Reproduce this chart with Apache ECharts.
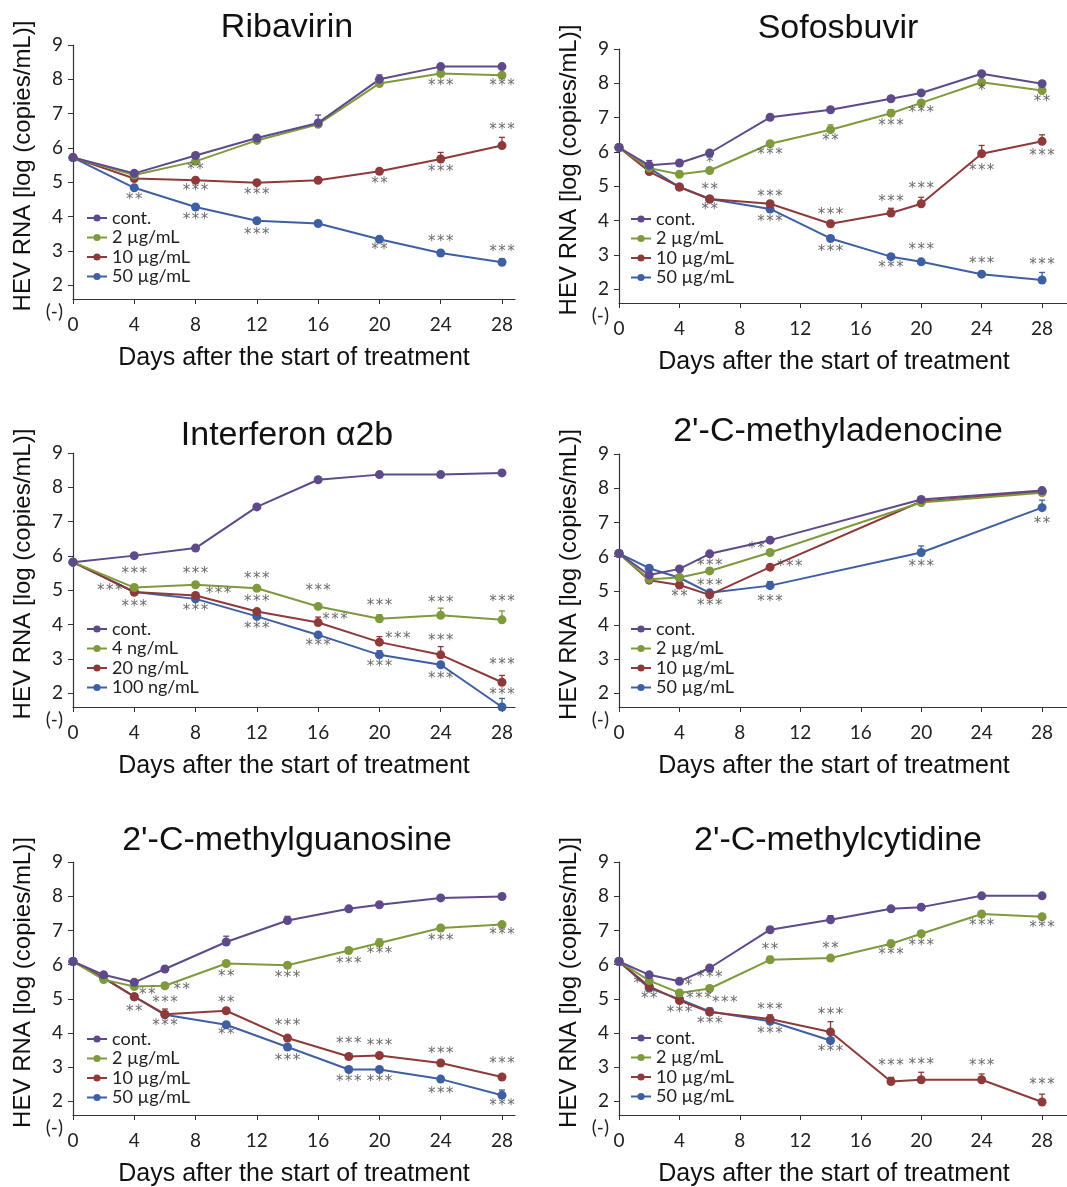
<!DOCTYPE html>
<html>
<head>
<meta charset="utf-8">
<title>HEV RNA</title>
<script src="https://cdn.jsdelivr.net/npm/echarts@6/dist/echarts.min.js"></script>
<style>
  html, body { margin: 0; padding: 0; background: #fff; }
  #main { width: 1067px; height: 1187px; }
</style>
</head>
<body>
<div id="main"></div>
<script>
// days sampled in each experiment
var daysWeekly = [0, 4, 8, 12, 16, 20, 24, 28]
    , daysDense = [0, 2, 4, 6, 10, 14, 18, 20, 24, 28]
    , daysAde = [0, 2, 4, 6, 10, 20, 28];

var xTicks = [0, 4, 8, 12, 16, 20, 24, 28]
    , yTicks = [2, 3, 4, 5, 6, 7, 8, 9]
    , yFloor = 1.6;   // "(-)" = below detection, sits on the x axis

var namesUg = ['cont.', '2 µg/mL', '10 µg/mL', '50 µg/mL']
    , namesIfn = ['cont.', '4 ng/mL', '20 ng/mL', '100 ng/mL'];

// Ribavirin
var ribCont = [5.72, 5.26, 5.78, 6.29, 6.73, 8.00, 8.37, 8.37];
var ribLow = [5.72, 5.21, 5.61, 6.22, 6.69, 7.88, 8.17, 8.12];
var ribMid = [5.72, 5.11, 5.06, 4.99, 5.06, 5.32, 5.68, 6.07];
var ribHigh = [5.72, 4.84, 4.28, 3.88, 3.80, 3.34, 2.94, 2.67];
var ribErr = [
    [0, 0, 0, 0.05, 0.23, 0.13, 0, 0],
    [0, 0, 0, 0, 0, 0, 0, 0],
    [0, 0, 0, 0, 0.06, 0.08, 0.19, 0.24],
    [0, 0, 0, 0, 0, 0, 0, 0.10]];
var ribStars = [
    [24, 7.80, '***'], [28, 7.80, '***'], [28, 6.52, '***'], [8, 5.35, '**'],
    [24, 5.31, '***'], [20, 4.94, '**'], [8, 4.74, '***'], [12, 4.63, '***'],
    [4, 4.48, '**'], [8, 3.90, '***'], [12, 3.46, '***'], [24, 3.26, '***'],
    [20, 3.02, '**'], [28, 2.97, '***']];

// Sofosbuvir
var sofCont = [6.13, 5.61, 5.68, 5.97, 7.01, 7.23, 7.55, 7.72, 8.28, 7.99];
var sofLow = [6.13, 5.53, 5.35, 5.46, 6.24, 6.65, 7.13, 7.43, 8.03, 7.79];
var sofMid = [6.13, 5.43, 4.98, 4.63, 4.49, 3.91, 4.22, 4.49, 5.95, 6.31];
var sofHigh = [6.13, 5.53, 4.98, 4.63, 4.34, 3.48, 2.95, 2.80, 2.44, 2.27];
var sofErr = [
    [0, 0.14, 0, 0, 0, 0, 0, 0, 0, 0],
    [0, 0, 0, 0, 0, 0.14, 0.10, 0, 0, 0],
    [0, 0, 0, 0, 0, 0, 0.14, 0.19, 0.24, 0.19],
    [0, 0, 0, 0, 0, 0, 0, 0, 0, 0.22]];
var sofStars = [
    [24, 7.77, '*'], [28, 7.45, '**'], [20, 7.13, '***'], [18, 6.76, '***'],
    [14, 6.33, '**'], [10, 5.92, '***'], [6, 5.69, '*'], [28, 5.89, '***'],
    [24, 5.43, '***'], [6, 4.90, '**'], [20, 4.92, '***'], [10, 4.68, '***'],
    [18, 4.54, '***'], [6, 4.31, '**'], [14, 4.17, '***'], [10, 3.97, '***'],
    [20, 3.15, '***'], [14, 3.09, '***'], [24, 2.73, '***'], [28, 2.71, '***'],
    [18, 2.63, '***']];

// Interferon alpha2b
var ifnCont = [5.82, 6.01, 6.23, 7.43, 8.22, 8.37, 8.37, 8.42];
var ifnLow = [5.82, 5.08, 5.16, 5.06, 4.53, 4.17, 4.27, 4.14];
var ifnMid = [5.82, 4.95, 4.85, 4.38, 4.06, 3.49, 3.12, 2.32];
var ifnHigh = [5.82, 4.95, 4.75, 4.24, 3.70, 3.12, 2.83, 1.6];
var ifnErr = [
    [0, 0, 0, 0, 0, 0, 0, 0],
    [0, 0, 0, 0, 0.06, 0.12, 0.21, 0.26],
    [0, 0, 0, 0, 0.16, 0.16, 0.24, 0.20],
    [0, 0, 0, 0, 0, 0.12, 0, 0.25]];
var ifnStars = [
    [4, 5.47, '***'], [8, 5.47, '***'], [12, 5.33, '***'], [2.4, 4.98, '***'],
    [16, 4.98, '***'], [9.5, 4.89, '***'], [12, 4.67, '***'], [20, 4.53, '***'],
    [24, 4.64, '***'], [28, 4.67, '***'], [4, 4.50, '***'], [8, 4.38, '***'],
    [17.1, 4.12, '***'], [12, 3.87, '***'], [21.2, 3.58, '***'], [24, 3.51, '***'],
    [16, 3.36, '***'], [28, 2.83, '***'], [20, 2.75, '***'], [24, 2.41, '***'],
    [28, 1.95, '***']];

// 2'-C-methyladenocine
var adeCont = [6.09, 5.46, 5.64, 6.08, 6.48, 7.67, 7.93];
var adeLow = [6.09, 5.34, 5.39, 5.58, 6.12, 7.58, 7.87];
var adeMid = [6.09, 5.31, 5.17, 4.88, 5.69, 7.61, 7.90];
var adeHigh = [6.09, 5.66, 5.38, 4.94, 5.15, 6.12, 7.43];
var adeErr = [
    [0, 0, 0, 0, 0, 0, 0],
    [0, 0, 0, 0, 0, 0, 0],
    [0, 0, 0, 0, 0, 0, 0],
    [0, 0, 0, 0, 0.12, 0.19, 0.22]];
var adeStars = [
    [28, 6.95, '**'], [9.1, 6.21, '**'], [6, 5.73, '***'], [11.3, 5.68, '***'],
    [20, 5.68, '***'], [6, 5.15, '***'], [4, 4.80, '**'], [10, 4.66, '***'],
    [6, 4.55, '***']];

// 2'-C-methylguanosine
var guaCont = [6.09, 5.70, 5.48, 5.87, 6.66, 7.29, 7.63, 7.75, 7.95, 7.99];
var guaLow = [6.09, 5.56, 5.36, 5.38, 6.03, 5.98, 6.41, 6.63, 7.07, 7.17];
var guaMid = [6.09, 5.61, 5.06, 4.55, 4.65, 3.85, 3.31, 3.34, 3.12, 2.71];
var guaHigh = [6.09, 5.61, 5.06, 4.53, 4.24, 3.59, 2.93, 2.93, 2.65, 2.18];
var guaErr = [
    [0, 0, 0, 0, 0.17, 0.12, 0, 0, 0, 0],
    [0, 0, 0, 0, 0, 0, 0, 0.12, 0, 0],
    [0, 0, 0, 0.15, 0, 0, 0, 0, 0, 0],
    [0, 0, 0, 0, 0, 0, 0, 0, 0, 0.15]];
var guaStars = [
    [28, 6.86, '***'], [24, 6.68, '***'], [20, 6.31, '***'], [18, 6.00, '***'],
    [10, 5.63, '**'], [14, 5.59, '***'], [7.1, 5.24, '**'], [4.85, 5.12, '**'],
    [6, 4.88, '***'], [10, 4.86, '**'], [4, 4.61, '**'], [6, 4.19, '***'],
    [14, 4.19, '***'], [10, 3.95, '**'], [18, 3.66, '***'], [20, 3.61, '***'],
    [24, 3.38, '***'], [14, 3.19, '***'], [28, 3.09, '***'], [18, 2.56, '***'],
    [20, 2.56, '***'], [24, 2.22, '***'], [28, 1.87, '***']];

// 2'-C-methylcytidine
var cytCont = [6.09, 5.70, 5.51, 5.90, 7.02, 7.31, 7.63, 7.68, 8.01, 8.01];
var cytLow = [6.09, 5.53, 5.17, 5.30, 6.14, 6.19, 6.61, 6.90, 7.48, 7.40];
var cytMid = [6.09, 5.36, 4.95, 4.61, 4.41, 4.03, 2.58, 2.63, 2.63, 1.98];
var cytHigh = [6.09, 5.31, 4.99, 4.63, 4.34, 3.78];
var cytErr = [
    [0, 0, 0, 0, 0, 0.12, 0, 0, 0, 0],
    [0, 0, 0, 0, 0.10, 0, 0.10, 0, 0, 0],
    [0, 0, 0, 0.12, 0.12, 0.30, 0.12, 0.22, 0.17, 0.23],
    [0, 0, 0, 0, 0, 0]];
var cytStars = [
    [24, 7.12, '***'], [28, 7.07, '***'], [10, 6.41, '**'], [14, 6.46, '**'],
    [20, 6.53, '***'], [18, 6.29, '***'], [6, 5.59, '***'], [1.2, 5.43, '*'],
    [4.6, 5.36, '*'], [2, 4.99, '**'], [5.3, 5.00, '***'], [7.0, 4.86, '***'],
    [4, 4.58, '***'], [10, 4.68, '***'], [14, 4.53, '***'], [6, 4.27, '***'],
    [10, 3.98, '***'], [14, 3.45, '***'], [18, 3.04, '***'], [20, 3.07, '***'],
    [24, 3.04, '***'], [28, 2.46, '***']];

var colors = ['#5E4A8B', '#7E9A3C', '#8E3A3A', '#3F5FA3'];
var FONT = 'Liberation Sans', FONT_SMALL = 'Lato';

// layout of the six panels
var panels = [
    { title: 'Ribavirin', days: daysWeekly, names: namesUg, values: [ribCont, ribLow, ribMid, ribHigh], errs: ribErr, stars: ribStars,
      left: 73, top: 45, width: 442, height: 254, xMax: 28.85, titleX: 287, titleTop: 11, legendLeft: 86, legendTop: 209, shift: 0 },
    { title: 'Sofosbuvir', days: daysDense, names: namesUg, values: [sofCont, sofLow, sofMid, sofHigh], errs: sofErr, stars: sofStars,
      left: 619, top: 49, width: 448, height: 254, xMax: 29.65, titleX: 838, titleTop: 12, legendLeft: 630, legendTop: 210, shift: 9 },
    { title: 'Interferon α2b', days: daysWeekly, names: namesIfn, values: [ifnCont, ifnLow, ifnMid, ifnHigh], errs: ifnErr, stars: ifnStars,
      left: 73, top: 453, width: 442, height: 254, xMax: 28.85, titleX: 287, titleTop: 419, legendLeft: 86, legendTop: 620, shift: 0 },
    { title: "2'-C-methyladenocine", days: daysAde, names: namesUg, values: [adeCont, adeLow, adeMid, adeHigh], errs: adeErr, stars: adeStars,
      left: 619, top: 454, width: 448, height: 253, xMax: 29.65, titleX: 838, titleTop: 415, legendLeft: 630, legendTop: 620, shift: 9 },
    { title: "2'-C-methylguanosine", days: daysDense, names: namesUg, values: [guaCont, guaLow, guaMid, guaHigh], errs: guaErr, stars: guaStars,
      left: 73, top: 862, width: 442, height: 253, xMax: 28.85, titleX: 287, titleTop: 824, legendLeft: 86, legendTop: 1030, shift: 0 },
    { title: "2'-C-methylcytidine", days: daysDense, names: namesUg, values: [cytCont, cytLow, cytMid, cytHigh], errs: cytErr, stars: cytStars,
      left: 619, top: 862, width: 448, height: 253, xMax: 29.65, titleX: 838, titleTop: 824, legendLeft: 630, legendTop: 1029, shift: 9 }
];

var option = {
    backgroundColor: '#fff',
    animation: false,
    title: [], legend: [], grid: [], xAxis: [], yAxis: [], series: []
};

panels.forEach(function (p, i) {
    option.title.push({
        text: p.title, left: p.titleX, top: p.titleTop, textAlign: 'center', padding: 0,
        textStyle: { fontFamily: FONT, fontSize: 34, fontWeight: 'normal', color: '#111' }
    });
    option.grid.push({ left: p.left, top: p.top, width: p.width, height: p.height, outerBoundsMode: 'none' });
    option.xAxis.push({
        type: 'value', gridIndex: i, min: 0, max: p.xMax,
        name: 'Days after the start of treatment', nameLocation: 'middle', nameGap: 47,
        nameTextStyle: { fontFamily: FONT, fontSize: 25, color: '#111', padding: [0, p.shift * 2, 0, 0] },
        axisLine: { show: true, onZero: false, lineStyle: { color: '#333', width: 1.2 } },
        axisTick: { show: true, length: 5, customValues: xTicks, lineStyle: { color: '#333' } },
        axisLabel: { customValues: xTicks, margin: 16, fontFamily: FONT_SMALL, fontSize: 19, color: '#222' },
        splitLine: { show: false }
    });
    option.yAxis.push({
        type: 'value', gridIndex: i, min: yFloor, max: 9,
        name: 'HEV RNA [log (copies/mL)]', nameLocation: 'middle', nameGap: 38,
        nameTextStyle: { fontFamily: FONT, fontSize: 24, color: '#111', padding: [0, 0, 0, 12] },
        axisLine: { show: true, onZero: false, lineStyle: { color: '#333', width: 1.2 } },
        axisTick: { show: true, length: 5, customValues: yTicks, lineStyle: { color: '#333' } },
        axisLabel: {
            customValues: [yFloor].concat(yTicks), margin: 10,
            fontFamily: FONT_SMALL, fontSize: 19, color: '#222',
            formatter: function (v) { return v < 2 ? '{d|(-)}' : String(v); },
            rich: { d: { fontFamily: FONT_SMALL, fontSize: 19, color: '#222', padding: [26, 0, 0, 0] } }
        },
        splitLine: { show: false }
    });
    option.legend.push({
        data: p.names, orient: 'vertical', left: p.legendLeft, top: p.legendTop, padding: 0,
        itemWidth: 20, itemHeight: 9, itemGap: 1.5, selectedMode: false,
        textStyle: { fontFamily: FONT_SMALL, fontSize: 18, color: '#222', lineHeight: 18 }
    });

    // lines, drawn blue first so that cont. ends on top
    for (var k = 3; k >= 0; k--) {
        var vals = p.values[k];
        option.series.push({
            type: 'line', name: p.names[k], xAxisIndex: i, yAxisIndex: i,
            data: vals.map(function (v, j) { return [p.days[j], v]; }),
            symbol: 'circle', symbolSize: 9, color: colors[k],
            lineStyle: { width: 2, color: colors[k] },
            itemStyle: { color: colors[k] }
        });
    }

    // error bars (upper only)
    var errData = [];
    p.errs.forEach(function (errs, k) {
        errs.forEach(function (e, j) {
            if (e > 0) errData.push([p.days[j], p.values[k][j], e, k]);
        });
    });
    option.series.push({
        type: 'custom', xAxisIndex: i, yAxisIndex: i, silent: true, z: 1,
        data: errData,
        renderItem: function (params, api) {
            var x = api.value(0), y = api.value(1), e = api.value(2), k = api.value(3);
            var a = api.coord([x, y]), b = api.coord([x, y + e]);
            var c = colors[k];
            return {
                type: 'group', children: [
                    { type: 'line', shape: { x1: a[0], y1: a[1], x2: b[0], y2: b[1] }, style: { stroke: c, lineWidth: 1.3 } },
                    { type: 'line', shape: { x1: b[0] - 3, y1: b[1], x2: b[0] + 3, y2: b[1] }, style: { stroke: c, lineWidth: 1.3 } }
                ]
            };
        }
    });

    // significance marks
    option.series.push({
        type: 'scatter', xAxisIndex: i, yAxisIndex: i, silent: true, z: 5,
        data: p.stars, symbolSize: 1, itemStyle: { color: 'rgba(0,0,0,0)' },
        labelLayout: { hideOverlap: false },
        label: {
            show: true, position: 'inside', offset: [0, 4],
            formatter: function (d) { return d.data[2].split('').join('\u200A'); },
            fontFamily: 'DejaVu Sans', fontSize: 15, color: '#444'
        }
    });
});

var myChart = echarts.init(document.getElementById('main'));
myChart.setOption(option);
</script>
</body>
</html>
